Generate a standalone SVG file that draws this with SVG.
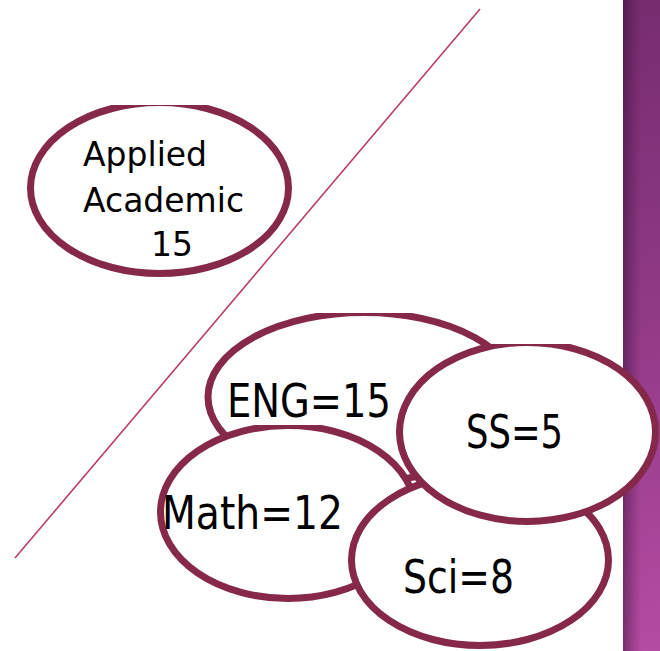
<svg xmlns="http://www.w3.org/2000/svg" width="660" height="651" viewBox="0 0 660 651">
  <style>
    .bubble { fill: #ffffff; stroke: #85284a; stroke-width: 7; }
    .small { font-family: "DejaVu Sans", "Liberation Sans", sans-serif; font-size: 33px; fill: #000; }
    .big { font-family: "DejaVu Sans", "Liberation Sans", sans-serif; font-size: 47px; fill: #000; }
  </style>
  <defs>
    <linearGradient id="barV" x1="0" y1="0" x2="0" y2="1">
      <stop offset="0" stop-color="#772c70"/>
      <stop offset="0.5" stop-color="#923a88"/>
      <stop offset="1" stop-color="#b54ba3"/>
    </linearGradient>
    <linearGradient id="barH" x1="0" y1="0" x2="1" y2="0">
      <stop offset="0" stop-color="#2a0a2a" stop-opacity="0.45"/>
      <stop offset="0.3" stop-color="#2a0a2a" stop-opacity="0.15"/>
      <stop offset="0.5" stop-color="#2a0a2a" stop-opacity="0"/>
    </linearGradient>
    <clipPath id="clipApplied"><rect x="0" y="105" width="660" height="546"/></clipPath>
    <clipPath id="clipEng"><rect x="0" y="313" width="660" height="338"/></clipPath>
    <clipPath id="clipMath"><rect x="0" y="425" width="660" height="226"/></clipPath>
    <clipPath id="clipSS"><rect x="0" y="344" width="660" height="307"/></clipPath>
  </defs>

  <rect x="0" y="0" width="660" height="651" fill="#ffffff"/>

  <g id="sidebar">
    <rect x="623" y="0" width="37" height="651" fill="url(#barV)"/>
    <rect x="623" y="0" width="37" height="651" fill="url(#barH)"/>
  </g>

  <g id="divider">
    <line x1="480" y1="9" x2="15" y2="558" stroke="#bb3d69" stroke-width="1.6"/>
  </g>

  <g id="applied-academic">
    <ellipse class="bubble" cx="159.5" cy="188" rx="129" ry="85.5" clip-path="url(#clipApplied)"/>
    <text class="small" x="83" y="166">Applied</text>
    <text class="small" x="83" y="212">Academic</text>
    <text class="small" x="151" y="256">15</text>
  </g>

  <g id="eng">
    <ellipse class="bubble" cx="364" cy="397" rx="156" ry="84.5" clip-path="url(#clipEng)"/>
    <text class="big" x="227" y="417" textLength="164" lengthAdjust="spacingAndGlyphs">ENG=15</text>
  </g>

  <g id="math">
    <ellipse class="bubble" cx="288" cy="512" rx="127.5" ry="86.5" clip-path="url(#clipMath)"/>
    <text class="big" x="162" y="529" textLength="181" lengthAdjust="spacingAndGlyphs">Math=12</text>
  </g>

  <g id="sci">
    <ellipse class="bubble" cx="480" cy="560" rx="128.5" ry="85.5"/>
    <text class="big" x="403" y="593" textLength="111" lengthAdjust="spacingAndGlyphs">Sci=8</text>
  </g>

  <g id="ss">
    <ellipse class="bubble" cx="527.5" cy="432" rx="128" ry="89.5" clip-path="url(#clipSS)"/>
    <text class="big" x="466" y="448" textLength="97" lengthAdjust="spacingAndGlyphs">SS=5</text>
  </g>
</svg>
